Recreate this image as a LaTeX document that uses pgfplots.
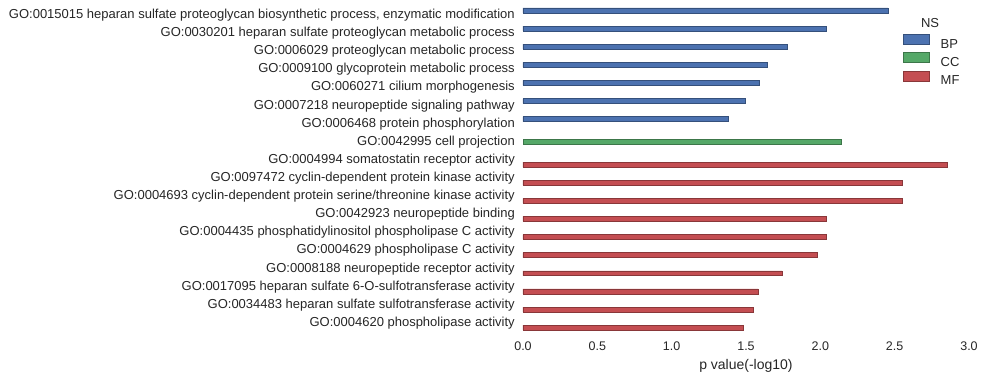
\documentclass[border=0pt]{standalone}
\usepackage{pgfplots}
\pgfplotsset{compat=1.18}
\usepackage{fontspec}
\setmainfont{Liberation Sans}
\definecolor{bp}{HTML}{4C72B0}
\definecolor{cc}{HTML}{55A868}
\definecolor{mf}{HTML}{C44E52}
\definecolor{txt}{HTML}{262626}
\begin{document}
\begin{tikzpicture}
\begin{axis}[name=ax, scale only axis, width=446pt, height=326pt,
  xmin=0, xmax=3, ymin=-0.5, ymax=17.5, y dir=reverse,
  axis line style={draw=none}, major tick length=0pt, tick style={draw=none},
  xtick={0,0.5,1,1.5,2,2.5,3},
  xticklabel style={/pgf/number format/fixed, /pgf/number format/fixed zerofill, /pgf/number format/precision=1, inner sep=0pt, yshift=-10pt, font=\fontsize{12.5}{14}\selectfont, text=txt},
  /pgf/number format/assume math mode=true,
  ytick={0,...,17},
  yticklabels={
    {GO:0015015 heparan sulfate proteoglycan biosynthetic process, enzymatic modification},
    {GO:0030201 heparan sulfate proteoglycan metabolic process},
    {GO:0006029 proteoglycan metabolic process},
    {GO:0009100 glycoprotein metabolic process},
    {GO:0060271 cilium morphogenesis},
    {GO:0007218 neuropeptide signaling pathway},
    {GO:0006468 protein phosphorylation},
    {GO:0042995 cell projection},
    {GO:0004994 somatostatin receptor activity},
    {GO:0097472 cyclin-dependent protein kinase activity},
    {GO:0004693 cyclin-dependent protein serine/threonine kinase activity},
    {GO:0042923 neuropeptide binding},
    {GO:0004435 phosphatidylinositol phospholipase C activity},
    {GO:0004629 phospholipase C activity},
    {GO:0008188 neuropeptide receptor activity},
    {GO:0017095 heparan sulfate 6-O-sulfotransferase activity},
    {GO:0034483 heparan sulfate sulfotransferase activity},
    {GO:0004620 phospholipase activity}},
  yticklabel style={inner sep=0pt, xshift=-8pt, text height=9.5pt, text depth=2.5pt, font=\fontsize{13}{15}\selectfont, text=txt},
  xlabel={p value(-log10)},
  xlabel style={font=\fontsize{14}{16}\selectfont, text=txt, at={(axis description cs:0.5,0)}, anchor=north, inner sep=0pt, yshift=-27pt},
  xbar, bar width=0.27,
  legend style={draw=none, fill=none, at={(axis description cs:0.852,0.914)}, anchor=north west,
    inner sep=0pt, row sep=4pt, column sep=11pt,
    nodes={inner sep=0pt, text height=9pt, text depth=0pt, font=\fontsize{13}{15}\selectfont, text=txt}},
  legend cell align=left,
  legend image code/.code={\draw[#1] (0pt,-0.5pt) rectangle (26pt,9.5pt);},
]
\addplot[bar shift=-0.255, fill=bp, draw=bp!70!black, line width=0.5pt] coordinates {
  (2.455,0) (2.038,1) (1.776,2) (1.641,3) (1.587,4) (1.493,5) (1.379,6)};
\addlegendentry{BP}
\addplot[bar shift=0, fill=cc, draw=cc!70!black, line width=0.5pt] coordinates {
  (2.139,7)};
\addlegendentry{CC}
\addplot[bar shift=0.255, fill=mf, draw=mf!70!black, line width=0.5pt] coordinates {
  (2.852,8) (2.549,9) (2.549,10) (2.038,11) (2.038,12) (1.978,13) (1.742,14) (1.581,15) (1.547,16) (1.480,17)};
\addlegendentry{MF}
\node[font=\fontsize{13}{15}\selectfont, text=txt, inner sep=0pt] at (axis cs:2.738,0.466) {NS};
\end{axis}
\pgfresetboundingbox
\path[use as bounding box] ([shift={(-523pt,-47pt)}]ax.south west) rectangle ([shift={(17pt,6pt)}]ax.north east);
\end{tikzpicture}
\end{document}
